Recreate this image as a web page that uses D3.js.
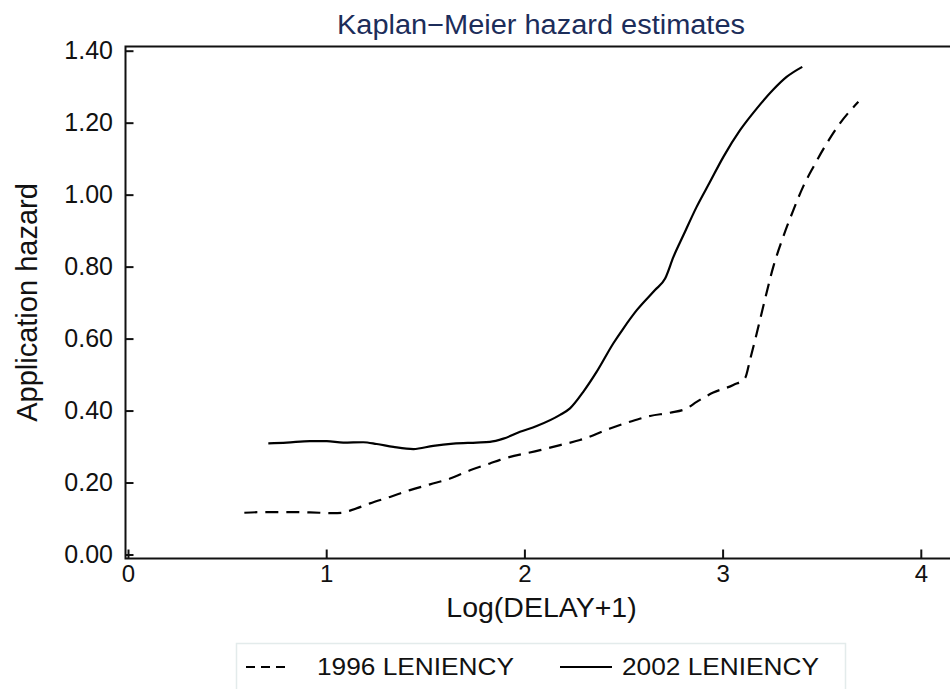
<!DOCTYPE html>
<html>
<head>
<meta charset="utf-8">
<script src="https://cdn.jsdelivr.net/npm/d3@7"></script>
<style>
  body { margin: 0; background: #fff; }
  text { font-family: 'Liberation Sans', Arial, sans-serif; }
</style>
</head>
<body>
<div id="chart"></div>
<script>
'use strict'

// values
const seriesNames = ['1996 LENIENCY', '2002 LENIENCY']
const delay1996 = [0.587, 0.70, 0.80, 0.918, 1.036, 1.078, 1.12, 1.221, 1.322, 1.423, 1.524, 1.625, 1.726, 1.826, 1.877, 2.079, 2.18, 2.28, 2.432, 2.533, 2.634, 2.735, 2.819, 2.869, 2.953, 3.054, 3.113, 3.138, 3.172, 3.205, 3.256, 3.306, 3.357, 3.407, 3.458, 3.525, 3.592, 3.685]
const hazard1996 = [0.116, 0.118, 0.118, 0.117, 0.115, 0.116, 0.122, 0.142, 0.160, 0.179, 0.195, 0.211, 0.234, 0.253, 0.263, 0.290, 0.304, 0.318, 0.350, 0.369, 0.385, 0.394, 0.406, 0.424, 0.450, 0.471, 0.490, 0.540, 0.614, 0.689, 0.800, 0.883, 0.957, 1.023, 1.077, 1.142, 1.198, 1.258]
const delay2002 = [0.708, 0.801, 0.918, 1.003, 1.086, 1.187, 1.255, 1.339, 1.44, 1.54, 1.641, 1.759, 1.826, 1.894, 1.978, 2.062, 2.18, 2.23, 2.297, 2.365, 2.449, 2.499, 2.567, 2.659, 2.71, 2.752, 2.802, 2.869, 2.936, 3.004, 3.088, 3.172, 3.256, 3.323, 3.402]
const hazard2002 = [0.309, 0.311, 0.315, 0.315, 0.311, 0.312, 0.307, 0.299, 0.293, 0.302, 0.308, 0.311, 0.313, 0.322, 0.341, 0.357, 0.388, 0.406, 0.452, 0.508, 0.587, 0.628, 0.679, 0.735, 0.767, 0.827, 0.887, 0.966, 1.035, 1.105, 1.179, 1.239, 1.292, 1.327, 1.355]
const xTicks = [0, 1, 2, 3, 4]
const yTicks = [0, 0.2, 0.4, 0.6, 0.8, 1.0, 1.2, 1.4]

const width = 950
const height = 689

const svg = d3.select('#chart').append('svg')
  .attr('width', width)
  .attr('height', height)

// plot region (right edge runs off the canvas like the original)
const frame = { left: 125.5, top: 46.5, right: 957, bottom: 558.5 }

const x = d3.scaleLinear().domain([0, 4]).range([128, 920.8])
const y = d3.scaleLinear().domain([0, 1.4]).range([554.5, 50.7])

svg.append('rect')
  .attr('x', frame.left)
  .attr('y', frame.top)
  .attr('width', frame.right - frame.left)
  .attr('height', frame.bottom - frame.top)
  .attr('fill', 'none')
  .attr('stroke', '#111')
  .attr('stroke-width', 2)

// y axis, ticks pointing inwards
const yAxis = svg.append('g')
  .attr('transform', 'translate(' + frame.left + ',0)')
  .call(d3.axisLeft(y).tickValues(yTicks).tickFormat(d3.format('.2f'))
    .tickSizeInner(-8).tickSizeOuter(0).tickPadding(12.5))
yAxis.select('.domain').remove()
yAxis.selectAll('line').attr('stroke', '#111').attr('stroke-width', 2)
yAxis.selectAll('text').attr('font-size', 25).attr('fill', '#111')
  .attr('font-family', "'Liberation Sans', Arial, sans-serif")

// x axis
const xAxis = svg.append('g')
  .attr('transform', 'translate(0,' + frame.bottom + ')')
  .call(d3.axisBottom(x).tickValues(xTicks).tickFormat(d3.format('d'))
    .tickSizeInner(-9).tickSizeOuter(0))
xAxis.select('.domain').remove()
xAxis.selectAll('line').attr('stroke', '#111').attr('stroke-width', 2)
xAxis.selectAll('text').attr('font-size', 24).attr('fill', '#111')
  .attr('font-family', "'Liberation Sans', Arial, sans-serif")
  .attr('y', 23.5).attr('dy', null)

// titles
svg.append('text')
  .attr('x', 541).attr('y', 33.5)
  .attr('text-anchor', 'middle')
  .attr('font-size', 27)
  .attr('fill', '#1c2d5a')
  .attr('textLength', 408).attr('lengthAdjust', 'spacingAndGlyphs')
  .text('Kaplan\u2212Meier hazard estimates')

svg.append('text')
  .attr('transform', 'translate(37,302.5) rotate(-90)')
  .attr('text-anchor', 'middle')
  .attr('font-size', 29)
  .attr('fill', '#111')
  .text('Application hazard')

svg.append('text')
  .attr('x', 541.5).attr('y', 616.7)
  .attr('text-anchor', 'middle')
  .attr('font-size', 28.5)
  .attr('fill', '#111')
  .text('Log(DELAY+1)')

// curves
const line = d3.line()
  .x(function (d) { return x(d[0]) })
  .y(function (d) { return y(d[1]) })
  .curve(d3.curveMonotoneX)

const data1996 = delay1996.map(function (d, i) { return [d, hazard1996[i]] })
const data2002 = delay2002.map(function (d, i) { return [d, hazard2002[i]] })

svg.append('path')
  .datum(data1996)
  .attr('d', line)
  .attr('fill', 'none')
  .attr('stroke', '#000')
  .attr('stroke-width', 2.2)
  .attr('stroke-dasharray', '13,8')

svg.append('path')
  .datum(data2002)
  .attr('d', line)
  .attr('fill', 'none')
  .attr('stroke', '#000')
  .attr('stroke-width', 2.2)

// legend
const legend = svg.append('g')
legend.append('rect')
  .attr('x', 236.5).attr('y', 643.5)
  .attr('width', 609).attr('height', 60)
  .attr('fill', '#fff')
  .attr('stroke', '#e3ebeb')
  .attr('stroke-width', 1.5)

legend.append('line')
  .attr('x1', 246).attr('x2', 285)
  .attr('y1', 667).attr('y2', 667)
  .attr('stroke', '#000').attr('stroke-width', 2.2)
  .attr('stroke-dasharray', '9,6')
legend.append('line')
  .attr('x1', 560).attr('x2', 612)
  .attr('y1', 667).attr('y2', 667)
  .attr('stroke', '#000').attr('stroke-width', 2.2)

legend.selectAll('text.lbl')
  .data(seriesNames)
  .enter().append('text')
  .attr('class', 'lbl')
  .attr('x', function (d, i) { return i === 0 ? 317 : 622 })
  .attr('y', 675)
  .attr('font-size', 23)
  .attr('fill', '#111')
  .attr('textLength', 197).attr('lengthAdjust', 'spacingAndGlyphs')
  .text(function (d) { return d })
</script>
</body>
</html>
